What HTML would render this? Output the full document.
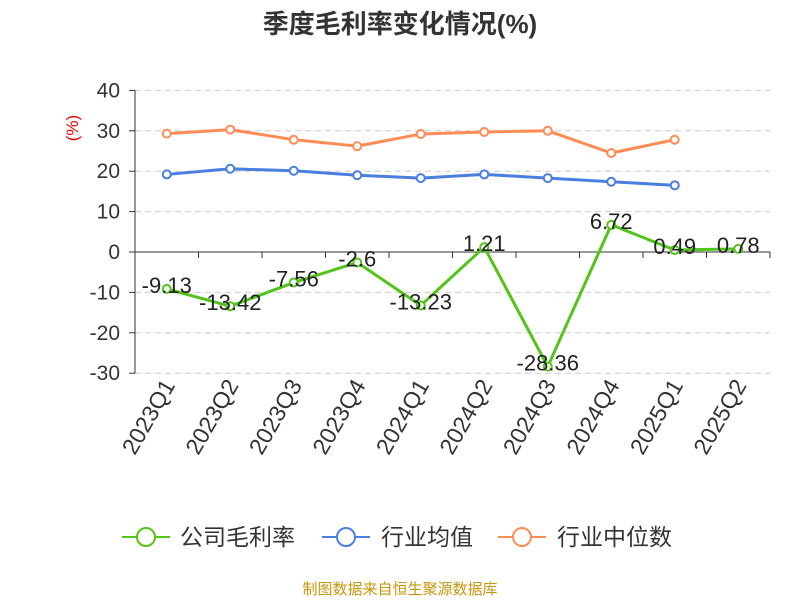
<!DOCTYPE html>
<html><head><meta charset="utf-8"><style>
body{margin:0;background:#fff;font-family:"Liberation Sans","Noto Sans CJK SC",sans-serif}
</style></head><body>
<svg id="c" width="800" height="600" xmlns="http://www.w3.org/2000/svg" font-family="Liberation Sans, Noto Sans CJK SC, sans-serif">
<text x="400" y="33" text-anchor="middle" font-size="26" font-weight="bold" fill="#333">季度毛利率变化情况(%)</text>
<text x="78" y="128" font-size="17" fill="#e00" transform="rotate(-90 78 128)" text-anchor="middle">(%)</text>
<g id="grid"></g><g id="axes"></g><g id="series"></g>
<g>
<g><line x1="122" y1="537" x2="170" y2="537" stroke="#52c41a" stroke-width="2"/><circle cx="146" cy="537" r="9" fill="#fff" stroke="#52c41a" stroke-width="2"/><text x="180" y="545" font-size="23" fill="#333">公司毛利率</text></g>
<g><line x1="322" y1="537" x2="370" y2="537" stroke="#4a7fe0" stroke-width="2"/><circle cx="346" cy="537" r="9" fill="#fff" stroke="#4a7fe0" stroke-width="2"/><text x="381" y="545" font-size="23" fill="#333">行业均值</text></g>
<g><line x1="498" y1="537" x2="546" y2="537" stroke="#ff8c55" stroke-width="2"/><circle cx="522" cy="537" r="9" fill="#fff" stroke="#ff8c55" stroke-width="2"/><text x="557" y="545" font-size="23" fill="#333">行业中位数</text></g>
</g>
<text x="400" y="594" text-anchor="middle" font-size="15" fill="#c8960a">制图数据来自恒生聚源数据库</text>
</svg>
<script>
const categories=["2023Q1","2023Q2","2023Q3","2023Q4","2024Q1","2024Q2","2024Q3","2024Q4","2025Q1","2025Q2"];
const company=[-9.13,-13.42,-7.56,-2.6,-13.23,1.21,-28.36,6.72,0.49,0.78];
const industryAvg=[19.2,20.6,20.1,19.0,18.3,19.2,18.3,17.4,16.5,null];
const industryMedian=[29.3,30.3,27.8,26.2,29.2,29.7,30.0,24.5,27.8,null];
const yTicks=[40,30,20,10,0,-10,-20,-30];
const NS="http://www.w3.org/2000/svg";
const x0=135,x1=770,bw=(x1-x0)/categories.length;
const X=i=>x0+bw*(i+0.5);
const Y=v=>252-v*4.04;
function mk(t,a,p){const e=document.createElementNS(NS,t);for(const k in a)e.setAttribute(k,a[k]);p.appendChild(e);return e;}
const grid=document.getElementById('grid'),axes=document.getElementById('axes'),ser=document.getElementById('series');
yTicks.forEach(v=>{
 if(v!==0){const l=mk('line',{x1:x0,x2:x1,y1:Y(v),y2:Y(v),stroke:'#ccc','stroke-dasharray':'6,4'},grid);
 
 }
 const t=mk('text',{x:x0-15,y:Y(v)+7,'text-anchor':'end','font-size':21,fill:'#333'},axes);t.textContent=v;
 
 
 mk('line',{x1:x0-6,x2:x0,y1:Y(v),y2:Y(v),stroke:'#333'},axes);
});
const ya=mk('line',{x1:x0,x2:x0,y1:Y(40),y2:Y(-30),stroke:'#333'},axes);


const xa=mk('line',{x1:x0,x2:x1,y1:Y(0),y2:Y(0),stroke:'#333'},axes);


categories.forEach((c,i)=>{
 mk('line',{x1:x0+bw*(i+1),x2:x0+bw*(i+1),y1:Y(0),y2:Y(0)+6,stroke:'#333'},axes);
 const tx=X(i)+9,ty=Y(-30)+12;
 const t=mk('text',{x:tx,y:ty,'text-anchor':'end','font-size':23,fill:'#333',transform:`rotate(-60 ${tx} ${ty})`},axes);t.textContent=c;
 
 
});
function series(data,color,name,labels){
 const g=mk('g',{},ser);
 
 
 let d='';data.forEach((v,i)=>{if(v==null)return;d+=(d?'L':'M')+X(i)+','+Y(v);});
 mk('path',{d:d,fill:'none',stroke:color,'stroke-width':3},g);
 data.forEach((v,i)=>{if(v==null)return;
  const c=mk('circle',{cx:X(i),cy:Y(v),r:4,fill:'#fff',stroke:color,'stroke-width':2},g);
  
  
  if(labels){const t=mk('text',{x:X(i),y:Y(v)+4,'text-anchor':'middle','font-size':22,fill:'#222'},g);t.textContent=v;
  
  }
 });
}
series(industryMedian,'#ff8c55','industry-median-line',false);
series(industryAvg,'#4a7fe0','industry-avg-line',false);
series(company,'#52c41a','company-margin-line',true);
</script>
</body></html>
